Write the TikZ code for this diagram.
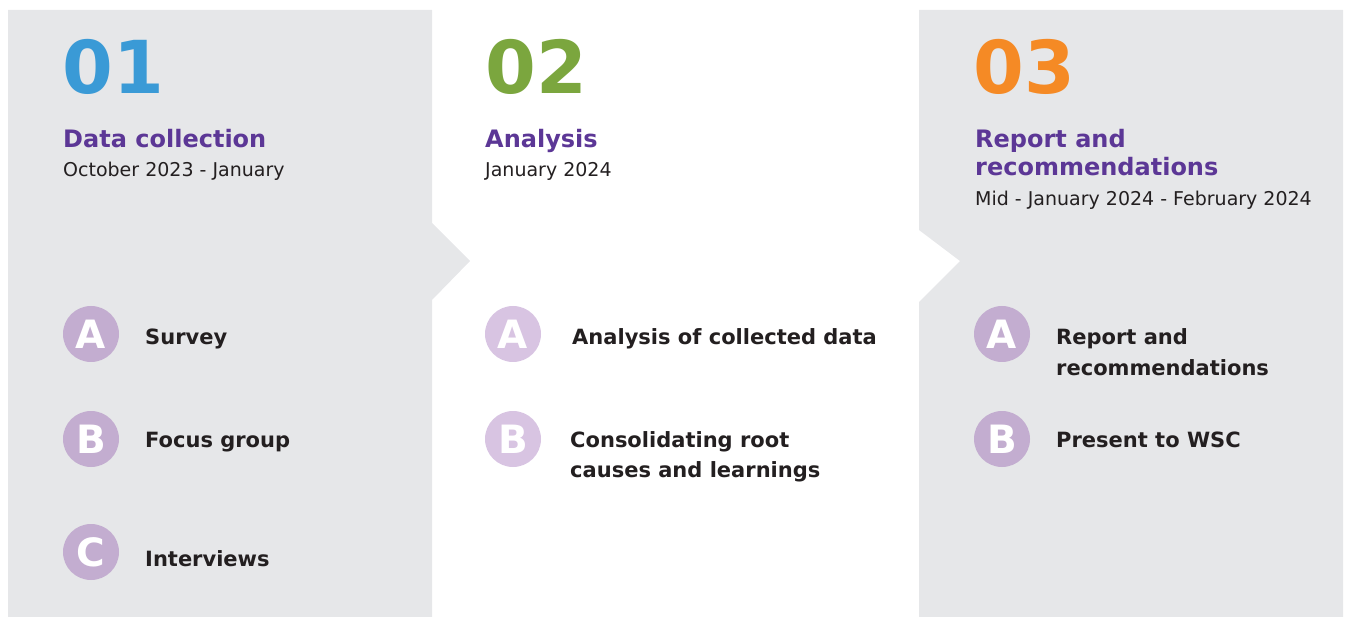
\documentclass[tikz,border=0pt]{standalone}
\usepackage{fontspec}
\setmainfont{DejaVu Sans}
\definecolor{panelgray}{HTML}{E6E7E9}
\definecolor{numblue}{HTML}{3A9AD6}
\definecolor{numgreen}{HTML}{7BA63E}
\definecolor{numorange}{HTML}{F58A25}
\definecolor{titlepurple}{HTML}{5C3796}
\definecolor{badgedark}{HTML}{C3ADD0}
\definecolor{badgelight}{HTML}{D8C4E2}
\definecolor{inkdark}{HTML}{231F20}
\tikzset{
  bignum/.style={anchor=base west,inner sep=0pt,font=\bfseries\fontsize{73}{80}\selectfont},
  phasetitle/.style={anchor=base west,inner sep=0pt,align=left,text=titlepurple,font=\bfseries\fontsize{24}{28}\selectfont},
  phasedate/.style={anchor=base west,inner sep=0pt,text=inkdark,font=\fontsize{19}{24}\selectfont},
  badge/.style={circle,fill=badgedark,minimum size=56pt,inner sep=0pt,text=white,font=\bfseries\fontsize{39}{40}\selectfont},
  itemtext/.style={anchor=base west,inner sep=0pt,align=left,text=inkdark,font=\bfseries\fontsize{21}{30}\selectfont}
}
\begin{document}
\begin{tikzpicture}[x=1pt,y=-1pt]
\useasboundingbox (0,0) rectangle (1349,617);
% panels
\fill[panelgray] (8,10) -- (432,10) -- (432,223) -- (470,261) -- (432,300) -- (432,617) -- (8,617) -- cycle;
\fill[panelgray] (919,10) -- (1343,10) -- (1343,617) -- (919,617) -- (919,302) -- (960,261) -- (919,230) -- cycle;
% phase 1
\node[bignum,text=numblue] (n1) at (62,94) {01};
\node[phasetitle] (t1) at (63,148) {Data collection};
\node[phasedate] (d1) at (63,177) {October 2023 - January};
\node[badge] (a1) at (91,334) {A};
\node[badge] (b1) at (91,439) {B};
\node[badge] (c1) at (91,552) {C};
\node[itemtext] (sa) at (145,345) {Survey};
\node[itemtext] (sb) at (145,447) {Focus group};
\node[itemtext] (sc) at (145,566) {Interviews};
% phase 2
\node[bignum,text=numgreen] (n2) at (485,94) {02};
\node[phasetitle] (t2) at (485,148) {Analysis};
\node[phasedate] (d2) at (485,177) {January 2024};
\node[badge,fill=badgelight] (a2) at (513,334) {A};
\node[badge,fill=badgelight] (b2) at (513,439) {B};
\node[itemtext] (ta) at (572,345) {Analysis of collected data};
\node[itemtext] (tb) at (570,477) {Consolidating root\\causes and learnings};
% phase 3
\node[bignum,text=numorange] (n3) at (973,94) {03};
\node[phasetitle] (t3) at (975,176) {Report and\\recommendations};
\node[phasedate] (d3) at (975,206) {Mid - January 2024 - February 2024};
\node[badge] (a3) at (1002,334) {A};
\node[badge] (b3) at (1002,439) {B};
\node[itemtext] (ra) at (1056,375) {Report and\\recommendations};
\node[itemtext] (rb) at (1056,447) {Present to WSC};
\end{tikzpicture}
\end{document}
